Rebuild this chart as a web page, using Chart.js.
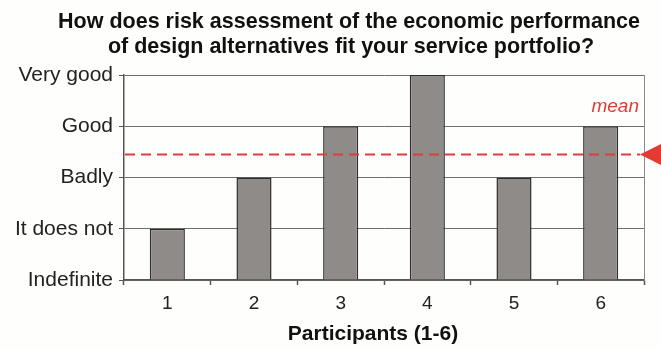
<!DOCTYPE html>
<html>
<head>
<meta charset="utf-8">
<script src="https://cdn.jsdelivr.net/npm/chart.js@4"></script>
<style>
  html, body { margin: 0; padding: 0; background: #fefefc; }
  #wrap { width: 661px; height: 349px; }
</style>
</head>
<body>
<div id="wrap"><canvas id="chart" width="661" height="349"></canvas></div>
<script>
  const participants = ["1", "2", "3", "4", "5", "6"];
  const ratings = [1, 2, 3, 4, 2, 3];
  const ratingLabels = ["Indefinite", "It does not", "Badly", "Good", "Very good"];
  const meanValue = 2.45;
  const titleLines = [
    "How does risk assessment of the economic performance",
    "of design alternatives fit your service portfolio?"
  ];
  const xTitle = "Participants (1-6)";
  const meanLabel = "mean";

  const FONT = "'Liberation Sans', Arial, sans-serif";
  const RED = "#e33b34";

  // title, mean line, arrow, frame
  const deco = {
    id: "deco",
    afterDatasetsDraw(chart){
      const { ctx, chartArea: a, scales } = chart;
      const y = scales.y.getPixelForValue(meanValue);
      ctx.save();

      // right border of the plot
      ctx.strokeStyle = "#8a8a8a";
      ctx.lineWidth = 1;
      ctx.beginPath();
      ctx.moveTo(Math.round(a.right) + 0.5, a.top);
      ctx.lineTo(Math.round(a.right) + 0.5, a.bottom);
      ctx.stroke();

      // mean line
      ctx.strokeStyle = RED;
      ctx.lineWidth = 2;
      ctx.setLineDash([10, 6]);
      ctx.beginPath();
      ctx.moveTo(a.left + 1, y);
      ctx.lineTo(a.right - 4, y);
      ctx.stroke();
      ctx.setLineDash([]);

      // arrow on the right
      ctx.fillStyle = RED;
      ctx.beginPath();
      ctx.moveTo(a.right - 4, y);
      ctx.lineTo(a.right + 22, y - 13);
      ctx.lineTo(a.right + 22, y + 13);
      ctx.closePath();
      ctx.fill();

      ctx.font = "italic 19px " + FONT;
      ctx.textAlign = "right";
      ctx.textBaseline = "alphabetic";
      ctx.fillText(meanLabel, a.right - 5, scales.y.getPixelForValue(3) - 14);

      // title
      ctx.fillStyle = "#111";
      ctx.font = "bold 21.5px " + FONT;
      ctx.textAlign = "center";
      ctx.fillText(titleLines[0], 349, 28);
      ctx.fillText(titleLines[1], 351, 53);

      // x axis title
      ctx.font = "bold 21px " + FONT;
      ctx.fillText(xTitle, 373, 340);
      ctx.restore();
    }
  };

  new Chart(document.getElementById("chart"), {
    type: "bar",
    data: {
      labels: participants,
      datasets: [{
        data: ratings,
        backgroundColor: "#8f8b89",
        borderColor: "#2e2e2e",
        borderWidth: 1.5,
        barPercentage: 0.405,
        categoryPercentage: 1
      }]
    },
    options: {
      responsive: false,
      animation: false,
      devicePixelRatio: 1,
      layout: { padding: { top: 75, right: 17, bottom: 0, left: 0 } },
      plugins: { legend: { display: false }, tooltip: { enabled: false }, title: { display: false } },
      scales: {
        x: {
          afterFit(s){ s.height = 69; },
          grid: { offset: true, drawOnChartArea: false, drawTicks: true, tickLength: 5, tickColor: "#555", tickWidth: 1.5 },
          border: { display: true, color: "#555", width: 1.5 },
          ticks: { color: "#222", font: { family: FONT, size: 19 }, padding: 7 }
        },
        y: {
          min: 0, max: 4,
          afterFit(s){ s.width = 124; },
          grid: { color: "#6e6e6e", tickLength: 5, tickColor: "#555" },
          border: { display: true, color: "#555", width: 1.5 },
          ticks: {
            stepSize: 1,
            color: "#222",
            font: { family: FONT, size: 21 },
            padding: 6,
            callback: (v) => ratingLabels[v] ?? ""
          }
        }
      }
    },
    plugins: [deco]
  });
</script>
</body>
</html>
